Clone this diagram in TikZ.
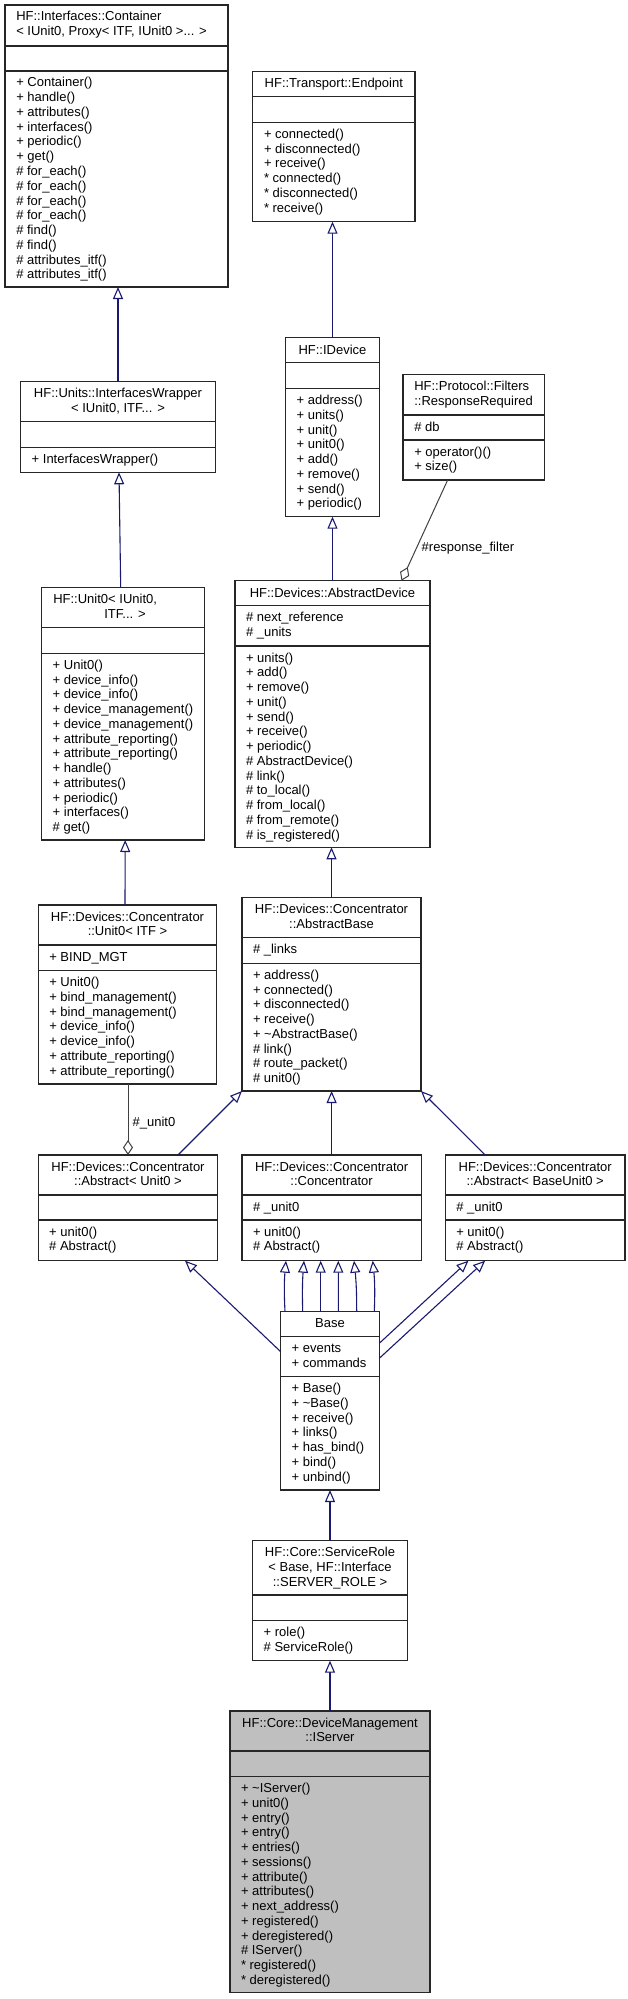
\documentclass[tikz,border=0pt]{standalone}
\usepackage{fontspec}
\setmainfont{Liberation Sans}
\usetikzlibrary{arrows.meta}
\definecolor{navy}{HTML}{191970}
\definecolor{edgegray}{HTML}{404040}
\definecolor{selgray}{HTML}{BFBFBF}
\tikzset{
  cbox/.style={draw=black!85, line width=1.1pt, inner sep=0pt, outer sep=0pt},
  sepl/.style={draw=black!85, line width=1.1pt},
  txt/.style={inner sep=0pt, outer sep=0pt, font=\fontsize{13}{14.75}\selectfont},
  inh/.style={draw=navy, line width=1.1pt, -{Triangle[length=12pt,width=10pt,fill=white]}},
  agg/.style={draw=edgegray, line width=1pt, {Diamond[length=15pt,width=10pt,fill=white]}-},
}
% box: name, x1, y1, x2, y2, sep1, sep2, fill
\newcommand\umlbox[8]{%
  \node[cbox, fill=#8, minimum width={(#4-#2)*1pt}, minimum height={(#5-#3)*1pt}, anchor=north west] (#1) at (#2,#3) {};
  \draw[sepl] (#2,#6) -- (#4,#6) (#2,#7) -- (#4,#7);}
% lines: name prefix, x, first baseline, list
\newcommand\mlines[4]{%
  \foreach \t [count=\i from 0] in {#4} {\node[txt, anchor=base west] (#1\i) at (#2,{#3+\i*14.75}) {\t};}}
\newcommand\tline[4]{\node[txt, anchor=base] (#1) at (#2,#3) {#4};}
\begin{document}
\begin{tikzpicture}[x=1pt,y=-1pt]
\useasboundingbox (0,0) rectangle (627,1999);
% Container
\umlbox{cont}{5}{5}{228}{287}{46}{71}{white}
\node[txt, anchor=base west] (contt1) at (16.3,21) {HF::Interfaces::Container};
\node[txt, anchor=base west] (contt2) at (16.3,35.75) {< IUnit0, Proxy< ITF, IUnit0 >... >};
\mlines{contm}{16.3}{87}{+ Container(),+ handle(),+ attributes(),+ interfaces(),+ periodic(),+ get(),\# for\_each(),\# for\_each(),\# for\_each(),\# for\_each(),\# find(),\# find(),\# attributes\_itf(),\# attributes\_itf()}
% Endpoint
\umlbox{ep}{252.7}{71.7}{415}{221.7}{96.7}{122.3}{white}
\tline{ept}{333.8}{88}{HF::Transport::Endpoint}
\mlines{epm}{264}{138.3}{+ connected(),+ disconnected(),+ receive(),* connected(),* disconnected(),* receive()}
% InterfacesWrapper
\umlbox{wrap}{20.7}{381.7}{215.3}{472.3}{421.7}{447.3}{white}
\tline{wrapt1}{118}{397.7}{HF::Units::InterfacesWrapper}
\tline{wrapt2}{118}{412.45}{< IUnit0, ITF... >}
\mlines{wrapm}{31.7}{463.3}{+ InterfacesWrapper()}
% IDevice
\umlbox{idev}{285.7}{337.7}{379.3}{516.7}{362.7}{388.7}{white}
\tline{idevt}{332.5}{354}{HF::IDevice}
\mlines{idevm}{296.7}{404.7}{+ address(),+ units(),+ unit(),+ unit0(),+ add(),+ remove(),+ send(),+ periodic()}
% ResponseRequired
\umlbox{rr}{403}{374.3}{544.3}{480}{415}{440}{white}
\node[txt, anchor=base west] (rrt1) at (414.3,390.3) {HF::Protocol::Filters};
\node[txt, anchor=base west] (rrt2) at (414.3,405.05) {::ResponseRequired};
\mlines{rra}{414.3}{431}{\# db}
\mlines{rrm}{414.3}{456}{+ operator()(),+ size()}
% AbstractDevice
\umlbox{adev}{235}{580.7}{430}{847.3}{605.7}{646}{white}
\tline{adevt}{332.5}{597}{HF::Devices::AbstractDevice}
\mlines{adeva}{246}{621.7}{\# next\_reference,\# \_units}
\mlines{adevm}{246}{662}{+ units(),+ add(),+ remove(),+ unit(),+ send(),+ receive(),+ periodic(),\# AbstractDevice(),\# link(),\# to\_local(),\# from\_local(),\# from\_remote(),\# is\_registered()}
% Unit0<IUnit0,ITF...>
\umlbox{u0}{41.7}{587.3}{204.7}{840}{627.3}{653.3}{white}
\node[txt, anchor=base west] (u0t1) at (53.3,603.3) {HF::Unit0< IUnit0,};
\tline{u0t2}{125}{618.05}{ITF... >}
\mlines{u0m}{52.7}{669.3}{+ Unit0(),+ device\_info(),+ device\_info(),+ device\_management(),+ device\_management(),+ attribute\_reporting(),+ attribute\_reporting(),+ handle(),+ attributes(),+ periodic(),+ interfaces(),\# get()}
% Concentrator::Unit0<ITF>
\umlbox{cu0}{38.3}{905}{216.7}{1084}{945}{970.7}{white}
\tline{cu0t1}{127.5}{921}{HF::Devices::Concentrator}
\tline{cu0t2}{127.5}{935.75}{::Unit0< ITF >}
\mlines{cu0a}{49.3}{961}{+ BIND\_MGT}
\mlines{cu0m}{49.3}{986.7}{+ Unit0(),+ bind\_management(),+ bind\_management(),+ device\_info(),+ device\_info(),+ attribute\_reporting(),+ attribute\_reporting()}
% AbstractBase
\umlbox{abase}{242}{897.7}{421}{1091}{937.7}{963.3}{white}
\tline{abaset1}{331.5}{913.7}{HF::Devices::Concentrator}
\tline{abaset2}{331.5}{928.45}{::AbstractBase}
\mlines{abasea}{253}{953.7}{\# \_links}
\mlines{abasem}{253}{979.3}{+ address(),+ connected(),+ disconnected(),+ receive(),+ \textasciitilde AbstractBase(),\# link(),\# route\_packet(),\# unit0()}
% Abstract<Unit0>
\umlbox{au0}{38.2}{1155}{217.8}{1260.7}{1195}{1220}{white}
\tline{au0t1}{128}{1171}{HF::Devices::Concentrator}
\tline{au0t2}{128}{1185.75}{::Abstract< Unit0 >}
\mlines{au0m}{49.2}{1236}{+ unit0(),\# Abstract()}
% Concentrator
\umlbox{conc}{242}{1155}{421.2}{1260.7}{1195}{1220}{white}
\tline{conct1}{331.6}{1171}{HF::Devices::Concentrator}
\tline{conct2}{331.6}{1185.75}{::Concentrator}
\mlines{conca}{253}{1211}{\# \_unit0}
\mlines{concm}{253}{1236}{+ unit0(),\# Abstract()}
% Abstract<BaseUnit0>
\umlbox{abb}{445.3}{1155}{625}{1260.7}{1195}{1220}{white}
\tline{abbt1}{535.2}{1171}{HF::Devices::Concentrator}
\tline{abbt2}{535.2}{1185.75}{::Abstract< BaseUnit0 >}
\mlines{abba}{456.3}{1211}{\# \_unit0}
\mlines{abbm}{456.3}{1236}{+ unit0(),\# Abstract()}
% Base
\umlbox{base}{280.7}{1311.7}{379.3}{1490}{1336.7}{1376.7}{white}
\tline{baset}{330}{1327.7}{Base}
\mlines{basea}{291.7}{1352.7}{+ events,+ commands}
\mlines{basem}{291.7}{1392.7}{+ Base(),+ \textasciitilde Base(),+ receive(),+ links(),+ has\_bind(),+ bind(),+ unbind()}
% ServiceRole
\umlbox{srole}{252.7}{1540.7}{407.3}{1660.7}{1595}{1620.7}{white}
\tline{sroset1}{330}{1556.7}{HF::Core::ServiceRole}
\tline{sroset2}{330}{1571.45}{< Base, HF::Interface}
\tline{sroset3}{330}{1586.2}{::SERVER\_ROLE >}
\mlines{srolem}{263.7}{1636.7}{+ role(),\# ServiceRole()}
% IServer
\umlbox{isrv}{230}{1711}{430}{1992.7}{1751}{1776.7}{selgray}
\tline{isrvt1}{330}{1727}{HF::Core::DeviceManagement}
\tline{isrvt2}{330}{1741.75}{::IServer}
\mlines{isrvm}{241}{1792.7}{+ \textasciitilde IServer(),+ unit0(),+ entry(),+ entry(),+ entries(),+ sessions(),+ attribute(),+ attributes(),+ next\_address(),+ registered(),+ deregistered(),\# IServer(),* registered(),* deregistered()}
% inheritance
\draw[inh] (wrap.north) -- (wrap.north |- cont.south);
\draw[inh] ([xshift=-2.5pt]u0.north) -- ([xshift=1pt]wrap.south);
\draw[inh] ([xshift=-2.5pt]cu0.north) -- ([xshift=2pt]u0.south);
\draw[inh] (idev.north) -- (idev.north |- ep.south);
\draw[inh] (adev.north) -- (adev.north |- idev.south);
\draw[inh] (abase.north) -- (abase.north |- adev.south);
\draw[inh] ([xshift=50pt]au0.north) -- (abase.south west);
\draw[inh] (conc.north) -- (conc.north |- abase.south);
\draw[inh] ([xshift=-50pt]abb.north) -- (abase.south east);
\draw[inh] ([yshift=-40pt]base.north west) -- ([xshift=57pt]au0.south);
\draw[inh] ([xshift=-45pt]base.north) to[bend left=4] ([xshift=-45.6pt]conc.south);
\draw[inh] ([xshift=-27.3pt]base.north) to[bend left=3] ([xshift=-27.6pt]conc.south);
\draw[inh] ([xshift=-9.3pt]base.north) -- ([xshift=-10.9pt]conc.south);
\draw[inh] ([xshift=8.3pt]base.north) -- ([xshift=6.7pt]conc.south);
\draw[inh] ([xshift=26.7pt]base.north) to[bend right=3] ([xshift=22.4pt]conc.south);
\draw[inh] ([xshift=44.3pt]base.north) to[bend right=4] ([xshift=41.1pt]conc.south);
\draw[inh] ([yshift=-31.6pt]base.north east) -- ([xshift=-66.7pt]abb.south);
\draw[inh] ([yshift=-46.6pt]base.north east) -- ([xshift=-50pt]abb.south);
\draw[inh] (srole.north) -- (srole.north |- base.south);
\draw[inh] (isrv.north) -- (isrv.north |- srole.south);
% aggregation
\draw[agg] ([xshift=69pt]adev.north) -- ([xshift=-26pt]rr.south);
\node[txt, anchor=base west] (lblrf) at (421.7,551) {\#response\_filter};
\draw[agg] (au0.north) -- (au0.north |- cu0.south);
\node[txt, anchor=base west] (lblu0) at (132.6,1126) {\#\_unit0};
\end{tikzpicture}
\end{document}
